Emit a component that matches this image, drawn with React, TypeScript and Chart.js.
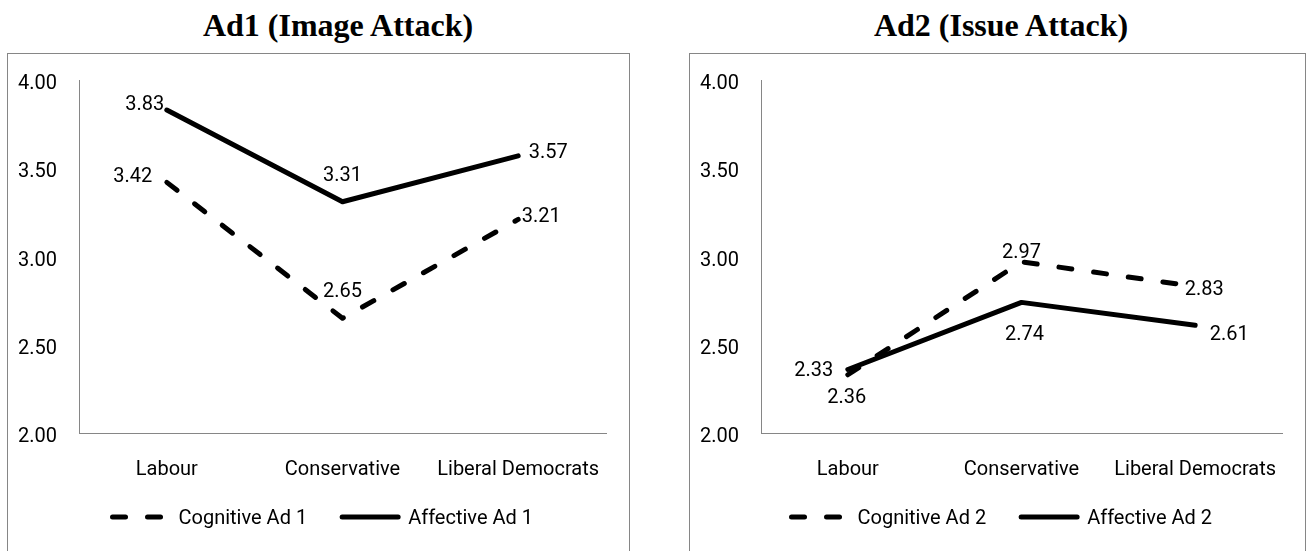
import React, { useEffect, useRef } from "react";
import { Chart, registerables } from "chart.js";

Chart.register(...registerables);

// ---------- data ----------
const categories = ["Labour", "Conservative", "Liberal Democrats"];
const yTickValues = [2.0, 2.5, 3.0, 3.5, 4.0];
const cognitiveAd1 = [3.42, 2.65, 3.21];
const affectiveAd1 = [3.83, 3.31, 3.57];
const cognitiveAd2 = [2.33, 2.97, 2.83];
const affectiveAd2 = [2.36, 2.74, 2.61];
const seriesNamesAd1 = ["Cognitive Ad 1", "Affective Ad 1"];
const seriesNamesAd2 = ["Cognitive Ad 2", "Affective Ad 2"];
const panelTitles = ["Ad1 (Image Attack)", "Ad2 (Issue Attack)"];

// ---------- style ----------
const FONT = "Roboto, 'Open Sans', sans-serif";
const FONT_SIZE = 20;
const AXIS_COLOR = "#868686";
const LINE_W = 5;
const DASH = [13, 22];
const TEXT_SHIFT = 3; // visual vertical centring correction for the font
// data label offsets [dx, dy] from point, per series per category
const labelOffsetsAd1 = [
  [[-34, -8], [0, -29], [23, -5]],
  [[-22, -8], [0, -29], [30, -6]],
];
const labelOffsetsAd2 = [
  [[-34, -7], [0, -12], [9, 0]],
  [[-1, 26], [3, 30], [34, 7]],
];

const CANVAS_H = 497;
const LEGEND_Y = 463;

function makeChart(
  canvas: HTMLCanvasElement,
  names: string[],
  cog: number[],
  aff: number[],
  offsets: number[][][]
) {
  const dataLabelPlugin = {
    id: "dataLabels",
    afterDatasetsDraw(chart: any) {
      const ctx = chart.ctx;
      ctx.save();
      ctx.font = `${FONT_SIZE}px ${FONT}`;
      ctx.fillStyle = "#000";
      ctx.textAlign = "center";
      ctx.textBaseline = "middle";
      chart.data.datasets.forEach((ds: any, di: number) => {
        const meta = chart.getDatasetMeta(di);
        meta.data.forEach((pt: any, i: number) => {
          const off = offsets[di][i];
          ctx.fillText(
            Number(ds.data[i]).toFixed(2),
            pt.x + off[0],
            pt.y + off[1] + TEXT_SHIFT
          );
        });
      });
      ctx.restore();
    },
  };

  const legendPlugin = {
    id: "customLegend",
    afterDraw(chart: any) {
      const ctx = chart.ctx;
      ctx.save();
      ctx.font = `${FONT_SIZE}px ${FONT}`;
      const lineLen = 56;
      const textGap = 10;
      const itemGap = 35;
      const cap = LINE_W / 2;
      const widths = chart.data.datasets.map((ds: any) => ctx.measureText(ds.label).width);
      let total = cap;
      widths.forEach((w: number, i: number) => {
        total += lineLen + textGap + w + (i < widths.length - 1 ? itemGap : 0);
      });
      let x = chart.width / 2 - total / 2 + cap + 3;
      chart.data.datasets.forEach((ds: any, i: number) => {
        ctx.beginPath();
        ctx.lineWidth = LINE_W;
        ctx.lineCap = "round";
        ctx.strokeStyle = "#000";
        ctx.setLineDash(ds.borderDash || []);
        ctx.moveTo(x, LEGEND_Y);
        ctx.lineTo(x + lineLen, LEGEND_Y);
        ctx.stroke();
        ctx.setLineDash([]);
        ctx.fillStyle = "#000";
        ctx.textAlign = "left";
        ctx.textBaseline = "middle";
        ctx.fillText(ds.label, x + lineLen + textGap, LEGEND_Y + 2);
        x += lineLen + textGap + widths[i] + itemGap;
      });
      ctx.restore();
    },
  };

  return new Chart(canvas, {
    type: "line",
    data: {
      labels: categories,
      datasets: [
        {
          label: names[0],
          data: cog,
          borderColor: "#000",
          borderWidth: LINE_W,
          borderDash: DASH,
          borderCapStyle: "round",
          borderJoinStyle: "round",
          pointRadius: 0,
          tension: 0,
          fill: false,
        },
        {
          label: names[1],
          data: aff,
          borderColor: "#000",
          borderWidth: LINE_W,
          borderCapStyle: "round",
          borderJoinStyle: "round",
          pointRadius: 0,
          tension: 0,
          fill: false,
        },
      ],
    },
    options: {
      animation: false,
      responsive: false,
      maintainAspectRatio: false,
      events: [],
      layout: { padding: { top: 26, right: 23, bottom: 0, left: 0 } },
      plugins: {
        legend: { display: false },
        title: { display: false },
        tooltip: { enabled: false },
      },
      scales: {
        x: {
          type: "category",
          offset: true,
          grid: { display: false, drawTicks: false },
          border: { display: true, color: AXIS_COLOR, width: 1 },
          ticks: {
            color: "#000",
            font: { family: FONT, size: FONT_SIZE },
            padding: 25,
            maxRotation: 0,
            autoSkip: false,
          },
          afterFit(scale: any) {
            scale.height = 118;
          },
        },
        y: {
          min: yTickValues[0],
          max: yTickValues[yTickValues.length - 1],
          grid: { display: false, drawTicks: true, tickLength: 22 },
          border: { display: true, color: AXIS_COLOR, width: 1 },
          afterBuildTicks(scale: any) {
            scale.ticks = yTickValues.map((v) => ({ value: v }));
          },
          ticks: {
            color: "#000",
            font: { family: FONT, size: FONT_SIZE },
            padding: 0,
            labelOffset: 4,
            callback: (v: any) => Number(v).toFixed(2),
          },
          afterFit(scale: any) {
            scale.width = 71;
          },
        },
      },
    },
    plugins: [dataLabelPlugin, legendPlugin],
  } as any);
}

function Panel(props: {
  boxLeft: number;
  boxWidth: number;
  titleCenter: number;
  title: string;
  names: string[];
  cog: number[];
  aff: number[];
  offsets: number[][][];
}) {
  const ref = useRef<HTMLCanvasElement | null>(null);
  useEffect(() => {
    if (!ref.current) return;
    const chart = makeChart(ref.current, props.names, props.cog, props.aff, props.offsets);
    return () => chart.destroy();
  }, []);
  const innerW = props.boxWidth - 2;
  return (
    <>
      <div
        style={{
          position: "absolute",
          left: props.titleCenter - 250,
          width: 500,
          top: 9,
          textAlign: "center",
          fontFamily: "'Liberation Serif', 'Times New Roman', serif",
          fontWeight: "bold",
          fontSize: 32,
          lineHeight: "32px",
          color: "#000",
          whiteSpace: "nowrap",
        }}
      >
        {props.title}
      </div>
      <div
        style={{
          position: "absolute",
          left: props.boxLeft,
          top: 53,
          width: props.boxWidth,
          height: 530,
          boxSizing: "border-box",
          border: `1px solid ${AXIS_COLOR}`,
          background: "#fff",
        }}
      >
        <canvas
          ref={ref}
          width={innerW}
          height={CANVAS_H}
          style={{ display: "block", width: innerW, height: CANVAS_H }}
        />
      </div>
    </>
  );
}

export default function App() {
  return (
    <div
      style={{
        position: "absolute",
        left: 0,
        top: 0,
        width: 1306,
        height: 551,
        overflow: "hidden",
        background: "#fff",
      }}
    >
      <Panel
        boxLeft={7}
        boxWidth={623}
        titleCenter={338}
        title={panelTitles[0]}
        names={seriesNamesAd1}
        cog={cognitiveAd1}
        aff={affectiveAd1}
        offsets={labelOffsetsAd1}
      />
      <Panel
        boxLeft={689}
        boxWidth={617}
        titleCenter={1001}
        title={panelTitles[1]}
        names={seriesNamesAd2}
        cog={cognitiveAd2}
        aff={affectiveAd2}
        offsets={labelOffsetsAd2}
      />
    </div>
  );
}
